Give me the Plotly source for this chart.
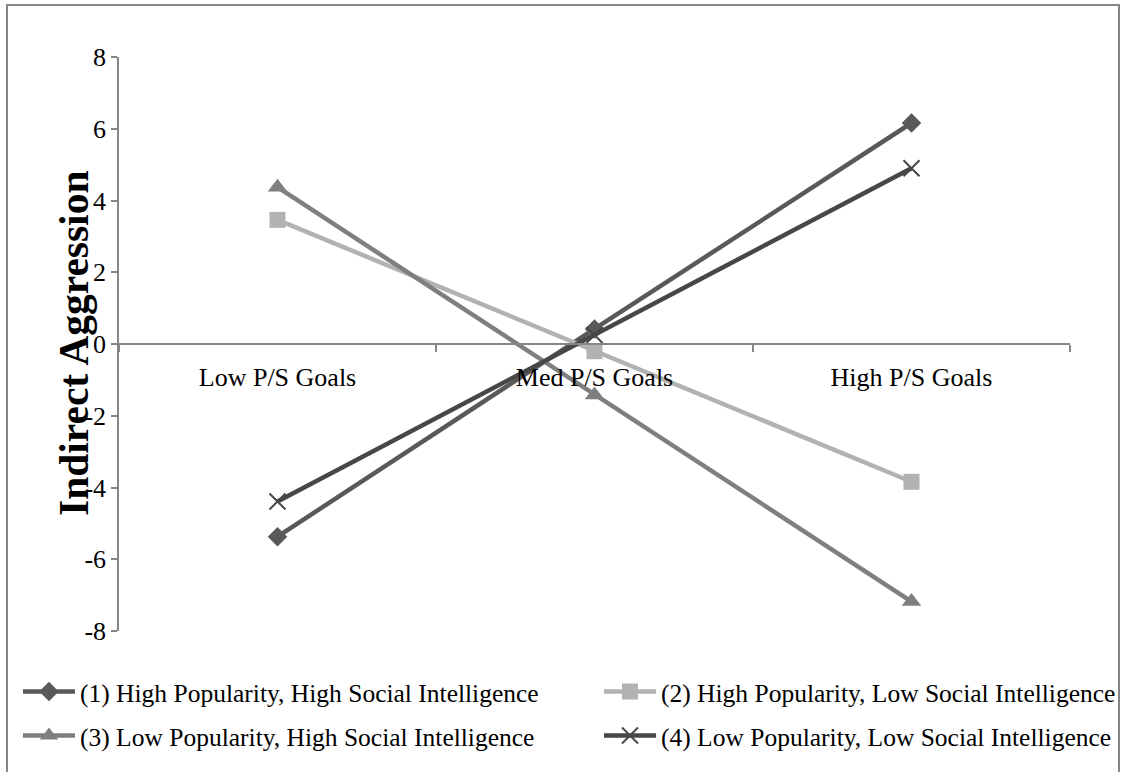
import plotly.graph_objects as go

categories = ["Low P/S Goals", "Med P/S Goals", "High P/S Goals"]
s1_name = "(1) High Popularity, High Social Intelligence"
s2_name = "(2) High Popularity, Low Social Intelligence"
s3_name = "(3) Low Popularity, High Social Intelligence"
s4_name = "(4) Low Popularity, Low Social Intelligence"
s1_values = [-5.37, 0.42, 6.16]
s2_values = [3.46, -0.2, -3.84]
s3_values = [4.37, -1.42, -7.18]
s4_values = [-4.39, 0.25, 4.9]
y_ticks = [-8, -6, -4, -2, 0, 2, 4, 6, 8]

FONT = "Liberation Serif"
AXIS = "#868686"

L, R, T, B = 119, 1070, 57, 631
W, H = 1125, 772
pw, ph = R - L, B - T

def px_x(x):
    return (x - L) / pw

def px_y(y):
    return (B - y) / ph

fig = go.Figure()
series = [
    (s1_name, s1_values, "#595959", dict(symbol="diamond", size=15), "legend", 18, 692),
    (s2_name, s2_values, "#b2b2b2", dict(symbol="square", size=16), "legend2", 599, 692),
    (s3_name, s3_values, "#7f7f7f", dict(symbol="triangle-up", size=17), "legend3", 18, 736),
    (s4_name, s4_values, "#474747", dict(symbol="x-thin", size=16, line=dict(width=2, color="#474747")), "legend4", 599, 736),
]
legends = {}
for name, vals, col, mk, lg, lx, ly in series:
    mk = dict(mk)
    mk["color"] = col
    fig.add_trace(go.Scatter(
        x=categories, y=vals, name=name, mode="lines+markers",
        line=dict(color=col, width=4.5), marker=mk, legend=lg,
    ))
    legends[lg] = dict(
        x=px_x(lx), y=px_y(ly), xanchor="left", yanchor="middle",
        font=dict(family=FONT, size=25.5, color="black"),
        bgcolor="rgba(0,0,0,0)", itemwidth=52,
    )

fig.update_layout(
    width=W, height=H,
    margin=dict(l=L, r=W - R, t=T, b=H - B, autoexpand=False),
    paper_bgcolor="white", plot_bgcolor="white",
    font=dict(family=FONT, size=26, color="black"),
    showlegend=True,
    xaxis=dict(
        type="category", anchor="free", position=0.5, range=[-0.5, 2.5],
        showline=True, linecolor=AXIS, linewidth=1.5,
        ticks="outside", tickson="boundaries", ticklen=7, tickcolor=AXIS, tickwidth=1.5,
        showgrid=False, zeroline=False,
        tickfont=dict(family=FONT, size=26, color="black"),
        ticklabelstandoff=10,
    ),
    yaxis=dict(
        range=[-8, 8], tickvals=y_ticks, ticktext=[str(v) for v in y_ticks],
        showline=True, linecolor=AXIS, linewidth=1.5,
        ticks="outside", ticklen=6, tickcolor=AXIS, tickwidth=1.5,
        showgrid=False, zeroline=False,
        tickfont=dict(family=FONT, size=26, color="black"),
    ),
    shapes=[dict(
        type="rect", xref="paper", yref="paper",
        x0=px_x(7), x1=px_x(1119), y0=px_y(780), y1=px_y(5),
        line=dict(color=AXIS, width=2), fillcolor="rgba(0,0,0,0)", layer="below",
    )],
    annotations=[dict(
        text="<b>Indirect Aggression</b>", xref="paper", yref="paper",
        x=px_x(74), y=0.5, xanchor="center", yanchor="middle",
        textangle=-90, showarrow=False,
        font=dict(family=FONT, size=41.5, color="black"),
    )],
    **legends,
)

fig.write_html("out.html", config={"displayModeBar": False},
               post_script="document.body.style.margin='0';")
